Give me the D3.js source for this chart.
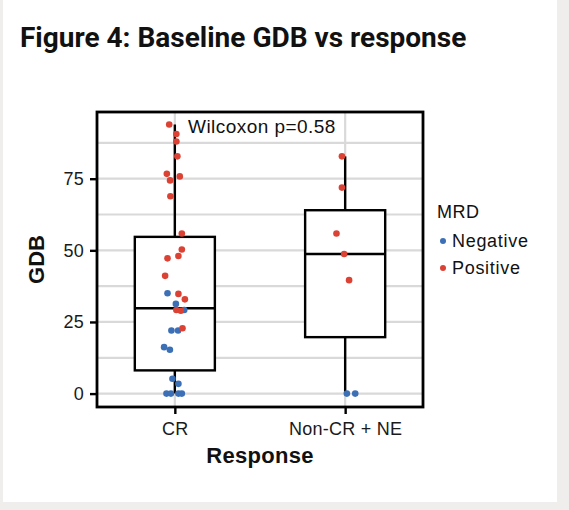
<!DOCTYPE html>
<html>
<head>
<meta charset="utf-8">
<script src="https://cdn.jsdelivr.net/npm/d3@7"></script>
<style>
  body { margin: 0; padding: 0; background: #efeeec; }
  svg { display: block; }
</style>
</head>
<body>
<div id="chart"></div>
<script>
// categories and groups
var categories = ["CR", "Non-CR + NE"];
var mrdLevels = ["Negative", "Positive"];
var mrdColors = ["#3b6fb6", "#db4234"];

// GDB values per group, jitter is offset in category units
var crPosGDB = [93.9, 90.6, 88.0, 82.8, 76.7, 75.8, 74.4, 68.9, 55.9, 50.3, 48.0, 47.2, 41.1, 34.8, 32.9, 29.2, 28.9, 22.8];
var crPosJit = [-0.033, 0.009, 0.009, 0.015, -0.047, 0.029, -0.028, -0.026, 0.041, 0.041, 0.021, -0.043, -0.057, 0.021, 0.059, 0.009, 0.035, 0.045];
var crNegGDB = [35.0, 31.3, 29.2, 22.0, 22.0, 16.2, 15.3, 5.2, 3.4, 0, 0, 0, 0];
var crNegJit = [-0.043, 0.006, 0.055, -0.020, 0.019, -0.063, -0.029, -0.014, 0.021, -0.049, -0.023, 0.021, 0.041];
var ncPosGDB = [82.8, 71.9, 55.9, 48.7, 39.6];
var ncPosJit = [-0.019, -0.019, -0.051, -0.006, 0.023];
var ncNegGDB = [0, 0];
var ncNegJit = [0.010, 0.059];

// box statistics per category
var boxLower = [0, 0];
var boxQ1 = [8.1, 19.7];
var boxMedian = [29.8, 48.7];
var boxQ3 = [54.7, 64.0];
var boxUpper = [93.9, 82.8];

var yTicks = [0, 25, 50, 75];
var yMinor = [12.5, 37.5, 62.5, 87.5];
var yDomain = [-4.68, 98.28];

var pValueLabel = "Wilcoxon p=0.58";

function makePoints(cat, mrd, vals, jit) {
    return vals.map(function (v, i) { return { cat: cat, mrd: mrd, gdb: v, jit: jit[i] }; });
}
var points = [].concat(
    makePoints("CR", "Negative", crNegGDB, crNegJit),
    makePoints("CR", "Positive", crPosGDB, crPosJit),
    makePoints("Non-CR + NE", "Negative", ncNegGDB, ncNegJit),
    makePoints("Non-CR + NE", "Positive", ncPosGDB, ncPosJit)
);

var W = 569, H = 510;
var panel = { left: 97, right: 423, top: 112, bottom: 407 };
var font = "'Liberation Sans', Arial, sans-serif";

var svg = d3.select("#chart")
    .append("svg")
    .attr("width", W)
    .attr("height", H);

// page background and white card
svg.append("rect").attr("width", W).attr("height", H).attr("fill", "#efeeec");
svg.append("rect").attr("x", 3).attr("y", 0).attr("width", 554).attr("height", 502).attr("fill", "#ffffff");

// title
svg.append("text")
    .attr("x", 20)
    .attr("y", 47)
    .style("font-family", "Roboto, sans-serif")
    .style("font-weight", "bold")
    .style("font-size", "28px")
    .attr("fill", "#111")
    .text("Figure 4: Baseline GDB vs response");

var x = d3.scalePoint()
    .domain(categories)
    .range([panel.left, panel.right])
    .padding(0.457);
var step = x.step();

var y = d3.scaleLinear()
    .domain(yDomain)
    .range([panel.bottom, panel.top]);

var color = d3.scaleOrdinal().domain(mrdLevels).range(mrdColors);

// grid
var grid = svg.append("g");
grid.selectAll(".minor")
    .data(yMinor)
    .enter().append("line")
    .attr("x1", panel.left).attr("x2", panel.right)
    .attr("y1", function (d) { return y(d); })
    .attr("y2", function (d) { return y(d); })
    .attr("stroke", "#d9d9d9").attr("stroke-width", 2.2);
grid.selectAll(".major")
    .data(yTicks)
    .enter().append("line")
    .attr("x1", panel.left).attr("x2", panel.right)
    .attr("y1", function (d) { return y(d); })
    .attr("y2", function (d) { return y(d); })
    .attr("stroke", "#d9d9d9").attr("stroke-width", 2.2);
grid.selectAll(".vert")
    .data(categories)
    .enter().append("line")
    .attr("x1", function (d) { return x(d); })
    .attr("x2", function (d) { return x(d); })
    .attr("y1", panel.top).attr("y2", panel.bottom)
    .attr("stroke", "#d9d9d9").attr("stroke-width", 2.2);

// boxplots
var boxW = step * 0.47;
var boxes = svg.append("g")
    .selectAll("g")
    .data(categories)
    .enter().append("g");

boxes.append("line")
    .attr("x1", function (d) { return x(d); })
    .attr("x2", function (d) { return x(d); })
    .attr("y1", function (d, i) { return y(boxUpper[i]); })
    .attr("y2", function (d, i) { return y(boxLower[i]); })
    .attr("stroke", "#000").attr("stroke-width", 2.4);

boxes.append("rect")
    .attr("x", function (d) { return x(d) - boxW / 2; })
    .attr("y", function (d, i) { return y(boxQ3[i]); })
    .attr("width", boxW)
    .attr("height", function (d, i) { return y(boxQ1[i]) - y(boxQ3[i]); })
    .attr("fill", "#fff")
    .attr("stroke", "#000").attr("stroke-width", 2.4);

boxes.append("line")
    .attr("x1", function (d) { return x(d) - boxW / 2; })
    .attr("x2", function (d) { return x(d) + boxW / 2; })
    .attr("y1", function (d, i) { return y(boxMedian[i]); })
    .attr("y2", function (d, i) { return y(boxMedian[i]); })
    .attr("stroke", "#000").attr("stroke-width", 2.4);

// jittered points
svg.append("g")
    .selectAll("circle")
    .data(points)
    .enter().append("circle")
    .attr("cx", function (d) { return x(d.cat) + d.jit * step; })
    .attr("cy", function (d) { return y(d.gdb); })
    .attr("r", 3.3)
    .attr("fill", function (d) { return color(d.mrd); });

// p-value annotation
svg.append("text")
    .attr("x", 188)
    .attr("y", 133)
    .style("font-family", font)
    .style("font-size", "19px")
    .style("letter-spacing", "0.45px")
    .attr("fill", "#111")
    .text(pValueLabel);

// panel border
svg.append("rect")
    .attr("x", panel.left).attr("y", panel.top)
    .attr("width", panel.right - panel.left)
    .attr("height", panel.bottom - panel.top)
    .attr("fill", "none")
    .attr("stroke", "#000").attr("stroke-width", 2.8);

// axes
var yAxis = svg.append("g")
    .attr("transform", "translate(" + panel.left + ",0)")
    .call(d3.axisLeft(y).tickValues(yTicks).tickSize(7).tickPadding(6));
var xAxis = svg.append("g")
    .attr("transform", "translate(0," + panel.bottom + ")")
    .call(d3.axisBottom(x).tickSize(7).tickPadding(8));

[yAxis, xAxis].forEach(function (a) {
    a.select(".domain").remove();
    a.selectAll(".tick line").attr("stroke", "#000").attr("stroke-width", 2.4);
    a.selectAll(".tick text")
        .attr("fill", "#1a1a1a")
        .style("font-family", font)
        .style("font-size", "18px")
        .style("letter-spacing", "0.25px");
});

// axis titles
svg.append("text")
    .attr("transform", "translate(44," + ((panel.top + panel.bottom) / 2) + ") rotate(-90)")
    .attr("text-anchor", "middle")
    .style("font-family", font)
    .style("font-weight", "bold")
    .style("font-size", "22px")
    .attr("fill", "#111")
    .text("GDB");

svg.append("text")
    .attr("x", (panel.left + panel.right) / 2)
    .attr("y", 463)
    .attr("text-anchor", "middle")
    .style("font-family", font)
    .style("font-weight", "bold")
    .style("font-size", "22px")
    .style("letter-spacing", "0.3px")
    .attr("fill", "#111")
    .text("Response");

// legend
var legend = svg.append("g").attr("transform", "translate(437,0)");
legend.append("text")
    .attr("x", 0).attr("y", 218)
    .style("font-family", font)
    .style("font-size", "18px")
    .style("letter-spacing", "0.5px")
    .attr("fill", "#111")
    .text("MRD");

var legItems = legend.selectAll(".item")
    .data(mrdLevels)
    .enter().append("g")
    .attr("transform", function (d, i) { return "translate(0," + (241 + i * 27) + ")"; });
legItems.append("circle")
    .attr("cx", 6).attr("cy", 0).attr("r", 3)
    .attr("fill", function (d) { return color(d); });
legItems.append("text")
    .attr("x", 15).attr("y", 6)
    .style("font-family", font)
    .style("font-size", "18px")
    .style("letter-spacing", "0.7px")
    .attr("fill", "#111")
    .text(function (d) { return d; });
</script>
</body>
</html>
